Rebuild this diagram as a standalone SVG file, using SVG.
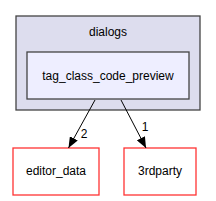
<svg xmlns="http://www.w3.org/2000/svg" width="216" height="201" viewBox="0 0 216 201">
<style>
text{font-family:"Liberation Sans",Arial,sans-serif;font-size:12px;fill:#000;text-anchor:middle}
.cl{fill:#ddddee;stroke:#444444;stroke-width:1.3}
.in{fill:#eeeeff;stroke:#444444;stroke-width:1.3}
.ext{fill:#ffffff;stroke:#ff3333;stroke-width:1.3}
.e{stroke:#000;stroke-width:1;fill:none}
</style>
<defs>
<marker id="ah" markerWidth="11" markerHeight="9" refX="11" refY="4.5" orient="auto" markerUnits="userSpaceOnUse">
<path d="M0,0 L11,4.5 L0,9 Z" fill="#000"/>
</marker>
</defs>
<g id="cluster_dialogs">
<rect class="cl" x="16" y="16" width="184" height="94"/>
<text x="108" y="36">dialogs</text>
</g>
<g id="node_tag_class_code_preview">
<rect class="in" x="27" y="52" width="162" height="47"/>
<text x="108" y="80">tag_class_code_preview</text>
</g>
<g id="node_editor_data">
<rect class="ext" x="13" y="148" width="86" height="47"/>
<text x="56" y="175">editor_data</text>
</g>
<g id="node_3rdparty">
<rect class="ext" x="124" y="148" width="72" height="47"/>
<text x="160" y="175">3rdparty</text>
</g>
<g id="edges">
<path class="e" d="M95,100 L68.5,148" marker-end="url(#ah)"/>
<text x="84" y="138">2</text>
<path class="e" d="M121,100 L146,148" marker-end="url(#ah)"/>
<text x="145" y="131">1</text>
</g>
</svg>
